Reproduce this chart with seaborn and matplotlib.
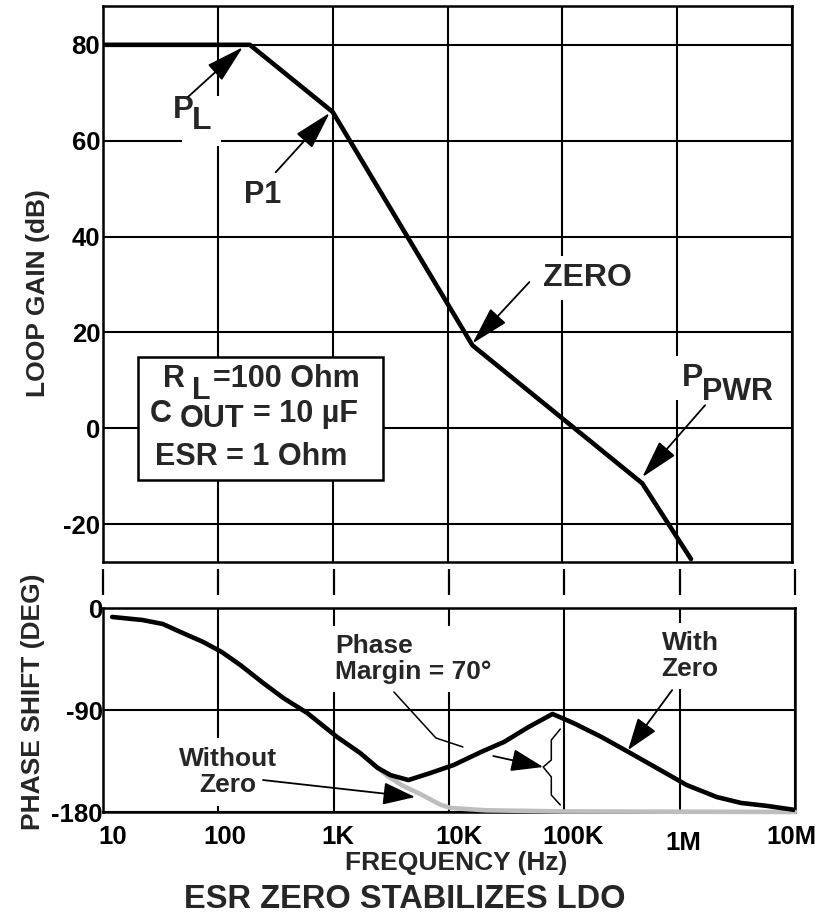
import matplotlib.pyplot as plt
import numpy as np
import pandas as pd
import seaborn as sns
from matplotlib.patches import Rectangle
from matplotlib.transforms import ScaledTranslation

# ganho em malha (assintotas)
gain_freq = [10, 190, 1000, 16500, 497000, 1320000]
gain_db = [80, 80, 66, 17.3, -11.5, -27.3]

# fase com o zero da ESR
phase_freq = [12, 22, 33, 47, 74, 107, 155, 245, 366, 589, 1070, 1700, 2400, 3100,
              4450, 6900, 11000, 19000, 30000, 49000, 79000, 120000, 210000, 400000,
              680000, 1150000, 2100000, 3400000, 5700000, 10000000]
phase_zero = [-7.9, -10.6, -14.1, -21.2, -30, -38.8, -50.3, -66.2, -79.4, -92.6, -113.8,
              -128, -141, -147.4, -151.8, -145.6, -138.5, -127, -118.2, -105, -93.5,
              -101.5, -113.8, -129.7, -143, -156.2, -166.8, -172, -174.6, -178.2]

# fase sem o zero
nozero_freq = [1700, 2400, 3000, 4000, 5600, 8400, 10400, 21000, 100000, 10000000]
phase_nozero = [-128, -141, -149, -157, -164, -173.5, -176.5, -178.5, -179.5, -180]

decades = [10, 100, 1e3, 1e4, 1e5, 1e6, 1e7]
freq_labels = ['10', '100', '1K', '10K', '100K', '1M', '10M']
gain_ticks = [-20, 0, 20, 40, 60, 80]
phase_ticks = [0, -90, -180]

sns.set_theme(style='white')
plt.rcParams['font.family'] = ['Liberation Sans', 'DejaVu Sans']
plt.rcParams['font.weight'] = 'bold'
plt.rcParams['axes.edgecolor'] = 'black'
plt.rcParams['axes.linewidth'] = 1.8
plt.rcParams['axes.unicode_minus'] = False

W, H = 827, 915
fig = plt.figure(figsize=(W / 100, H / 100), dpi=100)
ax1 = fig.add_axes([103 / W, 1 - 562 / H, 689 / W, 556 / H])
ax2 = fig.add_axes([103 / W, 1 - 812 / H, 692 / W, 204 / H])

for ax in (ax1, ax2):
    ax.set_xscale('log')
    ax.set_xlim(10, 1e7)
    ax.set_xticks(decades)
    ax.xaxis.set_minor_locator(plt.NullLocator())
    ax.grid(True, color='black', lw=1.5)
    ax.tick_params(length=0, labelsize=18.5, colors='black')
    for s in ax.spines.values():
        s.set_color('black')

# painel do ganho
sns.lineplot(x=gain_freq, y=gain_db, ax=ax1, color='black', lw=3.3, zorder=4)
ax1.set_ylim(-27.9, 88.1)
ax1.set_yticks(gain_ticks)
ax1.tick_params(axis='x', labelbottom=False)
ax1.tick_params(axis='y', pad=2)
ax1.set_xlabel('')
ax1.set_ylabel('')

# painel da fase
df = pd.DataFrame({'f': phase_freq, 'fase': phase_zero})
sns.lineplot(data=df, x='f', y='fase', ax=ax2, color='black', lw=3.3, zorder=4)
sns.lineplot(x=nozero_freq, y=phase_nozero, ax=ax2, color='#bdbdbd', lw=3.3,
             zorder=3, clip_on=False)
ax2.set_ylim(-180, 0)
ax2.set_yticks(phase_ticks)
ax2.set_xticklabels(freq_labels)
ax2.tick_params(axis='y', pad=0)
ax2.tick_params(axis='x', pad=9)
ax2.set_xlabel('')
ax2.set_ylabel('')

# pequenos deslocamentos dos rotulos de frequencia, como no original
desloc = [(10, 0), (6, 0), (4, 0), (10, 0), (9, 0), (4, -7), (-4, 0)]
for lab, (dx, dy) in zip(ax2.get_xticklabels(), desloc):
    lab.set_transform(lab.get_transform() +
                      ScaledTranslation(dx / 100, dy / 100, fig.dpi_scale_trans))

# tracos entre os paineis
ax2.vlines(decades, 1.064, 1.191, transform=ax2.get_xaxis_transform(),
           colors='black', lw=1.6, clip_on=False)

seta = dict(arrowstyle='-|>,head_length=1.2,head_width=0.33', mutation_scale=20,
            color='black', lw=1.3, shrinkA=0, shrinkB=0)
seta2 = dict(arrowstyle='-|>,head_length=1.0,head_width=0.35', mutation_scale=20,
             color='black', lw=1.3, shrinkA=0, shrinkB=0)
branco = dict(facecolor='white', edgecolor='none', pad=5)

# anotacoes do ganho
ax1.text(59.4, 64.1, 'L', ha='left', va='center', fontsize=23, zorder=5,
         bbox=dict(facecolor='white', edgecolor='none', pad=7))
ax1.text(40.6, 66.4, 'P', ha='left', va='center', fontsize=22.5, zorder=5.5)
ax1.annotate('', xy=(165, 79.5), xytext=(54.8, 69.1), arrowprops=seta, zorder=6)
ax1.text(246, 48.6, 'P1', ha='center', va='center', fontsize=22, zorder=5)
ax1.annotate('', xy=(942, 65.8), xytext=(319, 53.4), arrowprops=seta, zorder=6)
ax1.text(165000, 31.3, 'ZERO', ha='center', va='center', fontsize=23, zorder=5,
         bbox=branco)
ax1.annotate('', xy=(16500, 17.7), xytext=(51600, 30.5), arrowprops=seta, zorder=6)
ax1.text(1.10e6, 10.4, 'P', ha='left', va='center', fontsize=23, zorder=5,
         bbox=branco)
ax1.text(1.65e6, 7.5, 'PWR', ha='left', va='center', fontsize=22, zorder=5.5)
ax1.annotate('', xy=(497000, -10.2), xytext=(1.75e6, 4.8), arrowprops=seta, zorder=6)

# caixa com as condicoes
ax1.add_patch(Rectangle((0.0508, 0.1475), 0.3556, 0.2212, transform=ax1.transAxes,
                        facecolor='white', edgecolor='black', lw=1.8, zorder=4))
caixa = [('R', 0.0871, 0.3291, 22), ('L', 0.1292, 0.3076, 22),
         ('=100 Ohm', 0.1597, 0.3291, 22), ('C', 0.0682, 0.2662, 22),
         ('OUT', 0.1118, 0.2572, 22), ('= 10 µF', 0.2177, 0.2662, 22),
         ('ESR = 1 Ohm', 0.0755, 0.1888, 22)]
for txt, x, y, fs in caixa:
    ax1.text(x, y, txt, transform=ax1.transAxes, ha='left', va='center',
             fontsize=fs, zorder=5)

# anotacoes da fase
ax2.text(1028, -45, 'Phase\nMargin = 70°', ha='left', va='center', fontsize=19,
         linespacing=1.1, zorder=5,
         bbox=dict(facecolor='white', edgecolor='none', pad=6))
ax2.plot([3330, 7700, 13200], [-74.1, -114.7, -122.6], color='black', lw=1.1, zorder=5)
ax2.annotate('', xy=(65600, -140.3), xytext=(24200, -130.6), arrowprops=seta2, zorder=6)
ax2.plot([92300, 77100, 77100, 65600, 77100, 77100, 92300],
         [-106.8, -116.5, -134.1, -140.3, -149.1, -165, -173.8],
         color='black', lw=1.1, zorder=5)
ax2.text(121, -144.7, 'Without\nZero', ha='center', va='center', fontsize=19,
         linespacing=1.15, zorder=5,
         bbox=dict(facecolor='white', edgecolor='none', pad=6))
ax2.annotate('', xy=(5080, -166.8), xytext=(244, -151.8), arrowprops=seta2, zorder=6)
ax2.text(1.23e6, -42.4, 'With\nZero', ha='center', va='center', fontsize=19,
         linespacing=1.1, zorder=5,
         bbox=dict(facecolor='white', edgecolor='none', pad=6))
ax2.annotate('', xy=(357000, -125.3), xytext=(861000, -72.4), arrowprops=seta2, zorder=6)

# rotulos e titulo
fig.text(38 / W, 1 - 293.5 / H, 'LOOP GAIN (dB)', rotation=90, ha='center',
         va='center', fontsize=19)
fig.text(33 / W, 1 - 701.5 / H, 'PHASE SHIFT (DEG)', rotation=90, ha='center',
         va='center', fontsize=19)
fig.text(456 / W, 1 - 863 / H, 'FREQUENCY (Hz)', ha='center', va='center', fontsize=19)
fig.text(405 / W, 1 - 900 / H, 'ESR ZERO STABILIZES LDO', ha='center', va='center',
         fontsize=23.5)

fig.savefig('out.png', dpi=100)
